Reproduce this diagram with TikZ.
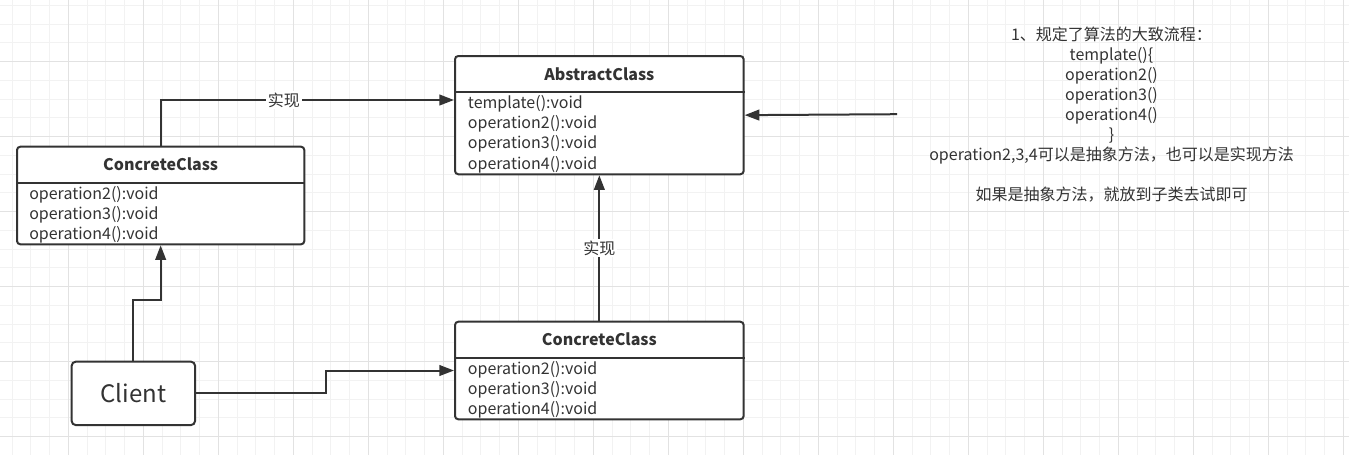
\documentclass[tikz,border=0pt]{standalone}
\usepackage{fontspec}
\setmainfont{Noto Sans CJK SC}
\usepackage{xcolor}
\usepackage{tikz}
\usetikzlibrary{arrows.meta}

\definecolor{ink}{HTML}{333333}
\definecolor{gridlight}{HTML}{F2F2F2}
\definecolor{griddark}{HTML}{E2E2E2}

\tikzset{
  classbox/.style={draw=ink, line width=1.5pt, rounded corners=2.5pt, fill=white, inner sep=0pt, anchor=north west},
  member/.style={anchor=base west, inner sep=0pt, text=ink, font=\fontsize{12pt}{15pt}\selectfont},
  classname/.style={text=ink, inner sep=0pt, font=\fontsize{12pt}{15pt}\selectfont\bfseries},
  link/.style={draw=ink, line width=1.5pt, -{Triangle[length=11pt,width=8pt]}},
  linklabel/.style={fill=white, text=ink, inner sep=1.5pt, font=\fontsize{12pt}{15pt}\selectfont},
  notetext/.style={text=ink, align=center, inner sep=0pt, font=\fontsize{12pt}{15pt}\selectfont},
}

\begin{document}
\begin{tikzpicture}[x=0.75pt, y=-0.75pt]
\useasboundingbox (0,0) rectangle (1349,455);
\fill[white] (0,0) rectangle (1349,455);

% background grid
\foreach \gx in {0,...,71}
  \draw[gridlight, line width=0.75pt] (12.08+18.75*\gx,0) -- (12.08+18.75*\gx,455);
\foreach \gy in {0,...,23}
  \draw[gridlight, line width=0.75pt] (0,5.45+18.75*\gy) -- (1349,5.45+18.75*\gy);
\foreach \gx in {0,...,18}
  \draw[griddark, line width=0.75pt] (-6.67+75*\gx,0) -- (-6.67+75*\gx,455);
\foreach \gy in {0,...,5}
  \draw[griddark, line width=0.75pt] (0,61.67+75*\gy) -- (1349,61.67+75*\gy);

% abstract class
\node[classbox, minimum width=216.5pt, minimum height=88.7pt] (abstract) at (454,55) {};
\draw[ink, line width=1.5pt] ([yshift=-27.75pt]abstract.north west) -- ([yshift=-27.75pt]abstract.north east);
\node[classname] at ([yshift=-14.5pt]abstract.north) {AbstractClass};
\foreach \m [count=\i from 0] in {template():void, operation2():void, operation3():void, operation4():void}
  \node[member] at ([shift={(13.7,53.5+20.2*\i)}]abstract.north west) {\m};

% concrete class, left
\node[classbox, minimum width=215.5pt, minimum height=73.2pt] (concL) at (16,145.7) {};
\draw[ink, line width=1.5pt] ([yshift=-27.75pt]concL.north west) -- ([yshift=-27.75pt]concL.north east);
\node[classname] at ([yshift=-14.2pt]concL.north) {ConcreteClass};
\foreach \m [count=\i from 0] in {operation2():void, operation3():void, operation4():void}
  \node[member] at ([shift={(13,53.6+20*\i)}]concL.north west) {\m};

% concrete class, bottom
\node[classbox, minimum width=216.5pt, minimum height=73.2pt] (concB) at (454,320.7) {};
\draw[ink, line width=1.5pt] ([yshift=-27.75pt]concB.north west) -- ([yshift=-27.75pt]concB.north east);
\node[classname] at ([yshift=-14.2pt]concB.north) {ConcreteClass};
\foreach \m [count=\i from 0] in {operation2():void, operation3():void, operation4():void}
  \node[member] at ([shift={(13.7,53.6+20*\i)}]concB.north west) {\m};

% client
\node[classbox, minimum width=92.5pt, minimum height=47.5pt, rounded corners=3pt, text=ink,
  font=\fontsize{18pt}{20pt}\selectfont] (client) at (70.7,360.7) {Client};

% note
\node[notetext] (note) at (1111.5,114.5) {1、规定了算法的大致流程：\\template()\{\\operation2()\\operation3()\\operation4()\\\}\\operation2,3,4可以是抽象方法，也可以是实现方法\\[15pt]如果是抽象方法，就放到子类去试即可};
\coordinate (notetail) at (897,114.2);

% connectors
\draw[link] (concL.north) |- ([yshift=-33.75pt]abstract.north west) node[linklabel, pos=0.71] {实现};
\draw[link] (concB.north) -- (abstract.south) node[linklabel, midway] {实现};
\draw[link] (client.north) -- ++(0,-60.7) -| (concL.south);
\draw[link] (client.east) -- ++(130,0) |- (concB.west);
\draw[link] (notetail) -- (abstract.east);
\end{tikzpicture}
\end{document}
